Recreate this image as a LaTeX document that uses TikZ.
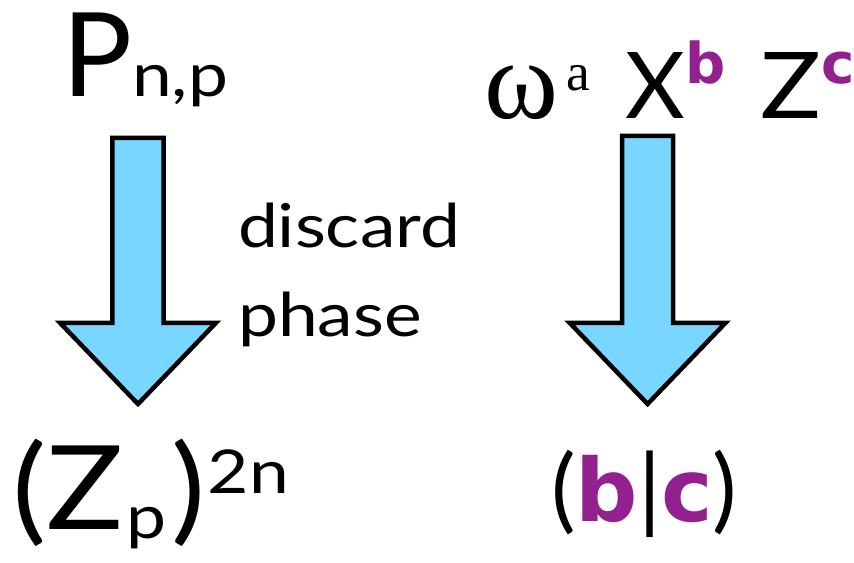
\documentclass[tikz,border=0pt]{standalone}
\usepackage{fontspec}
\setmainfont{Lato}
\newfontfamily\widefont{Lato}[FakeStretch=1.1]
\newfontfamily\smallfont{Lato}[FakeStretch=1.18]
\newfontfamily\greekfont{Liberation Serif}
\newfontfamily\vecfont{DejaVu Sans}
\usetikzlibrary{calc}
\definecolor{arrowblue}{HTML}{78D6FF}
\definecolor{vecpurple}{HTML}{93208F}
\newcommand{\bigsz}{\fontsize{83}{90}\selectfont}
\newcommand{\midsz}{\fontsize{65.5}{72}\selectfont}
\newcommand{\smallsz}{\smallfont\fontsize{43}{50}\selectfont}
\newcommand{\vecb}[1]{{\color{vecpurple}\vecfont\bfseries #1}}

\begin{document}
\begin{tikzpicture}[
  lbl/.style={anchor=base west, inner sep=0pt, outer sep=0pt},
  blockarrow/.style={draw=black, fill=arrowblue, line width=3.2pt, line join=miter,
    to path={let \p1=(\tikztostart), \p2=(\tikztotarget) in
      -- (\x1+0.64cm,\y1) -- (\x1+0.64cm,\y2+2.03cm) -- (\x1+1.95cm,\y2+2.03cm)
      -- (\x2,\y2) -- (\x1-1.95cm,\y2+2.03cm) -- (\x1-0.64cm,\y2+2.03cm)
      -- (\x1-0.64cm,\y1) -- cycle}},
]
\useasboundingbox (0,0) rectangle (21.35,14.05);

% left column: P_{n,p} down to (Z_p)^{2n}
\node[lbl] (pauli) at (1.55,11.625) {\bigsz P\smallsz n,p};
\node[lbl] (discard) at (5.95,7.85) {\smallsz discard};
\node[lbl] (phase) at (5.95,5.625) {\smallsz phase};
\node[lbl] (zpn) at (0.3,0.8) {\widefont\bigsz (Z\hspace{2pt}\raisebox{-6pt}{\smallsz p}\hspace{4pt})\hspace{1pt}\raisebox{26.3pt}{\smallsz 2n}};

\coordinate (ltop) at (3.45,10.6);
\coordinate (ltip) at (3.45,3.95);
\draw[blockarrow] (ltop) to (ltip);

% right column: omega^a X^b Z^c down to (b|c)
\node[lbl] (weyl) at (12.1,11.075) {{\greekfont\fontsize{80}{84}\selectfont ω\hspace{6pt}\raisebox{20.6pt}{\fontsize{38}{40}\selectfont a}}\hspace{25pt}{\midsz X\raisebox{25.6pt}{\vecb{\fontsize{40}{44}\selectfont b}}\hspace{25pt}{\widefont Z}\raisebox{25.6pt}{\vecb{\fontsize{40}{44}\selectfont c}}}};
\begin{scope}
  \clip (12,0.475) rectangle (21.35,4);
  \node[lbl] (bc) at (13.78,1.0) {\midsz(\vecb{\fontsize{62}{70}\selectfont b}|\vecb{\fontsize{62}{70}\selectfont c})};
\end{scope}

\coordinate (rtop) at (16.19,10.65);
\coordinate (rtip) at (16.19,3.95);
\draw[blockarrow] (rtop) to (rtip);
\end{tikzpicture}
\end{document}
